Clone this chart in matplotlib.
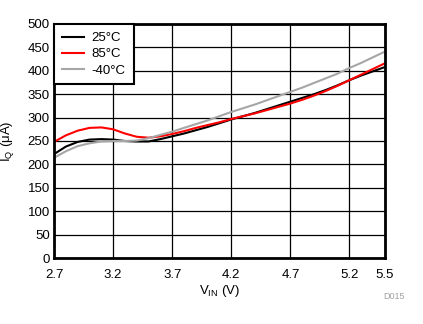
import numpy as np
import matplotlib.pyplot as plt

plt.rcParams['font.family'] = ['Liberation Sans', 'DejaVu Sans']
plt.rcParams['mathtext.fontset'] = 'custom'
plt.rcParams['mathtext.rm'] = 'Liberation Sans'

vin = [2.7, 2.8, 2.9, 3.0, 3.1, 3.2, 3.3, 3.4, 3.5, 3.6, 3.7, 3.8, 3.9, 4.0, 4.1,
       4.2, 4.3, 4.4, 4.5, 4.6, 4.7, 4.8, 4.9, 5.0, 5.1, 5.2, 5.3, 5.4, 5.5]

iq_25 = [222, 238, 248, 253, 254, 253, 250, 249, 249, 254, 260, 266, 273, 280, 288,
         296, 303, 310, 318, 326, 334, 342, 350, 359, 369, 380, 390, 399, 408]
iq_85 = [248, 262, 272, 278, 279, 275, 266, 259, 257, 260, 265, 271, 278, 284, 290,
         297, 303, 309, 316, 323, 330, 338, 347, 357, 368, 380, 392, 404, 416]
iq_m40 = [214, 228, 239, 245, 249, 250, 250, 251, 256, 263, 270, 278, 286, 294, 303,
          312, 320, 328, 337, 346, 355, 364, 374, 384, 394, 406, 417, 429, 441]

xticks = [2.7, 3.2, 3.7, 4.2, 4.7, 5.2, 5.5]
yticks = np.arange(0, 501, 50)

fig = plt.figure(figsize=(4.23, 3.24), dpi=100)
ax = fig.add_axes([0.1277, 0.2037, 0.910 - 0.1277, 0.926 - 0.2037])

ax.plot(vin, iq_25, color='black', lw=1.5, label='25°C')
ax.plot(vin, iq_85, color='#FF0000', lw=1.5, label='85°C')
ax.plot(vin, iq_m40, color='#A6A6A6', lw=1.5, label='-40°C')

ax.set_xlim(2.7, 5.5)
ax.set_ylim(0, 500)
ax.set_xticks(xticks)
ax.set_yticks(yticks)
ax.tick_params(length=0, labelsize=9.5)
ax.tick_params(axis='x', pad=8)
ax.tick_params(axis='y', pad=3)
ax.grid(True, color='black', lw=0.9)
for s in ax.spines.values():
    s.set_linewidth(2)

ax.set_xlabel(r'V$_{\mathregular{IN}}$ (V)', fontsize=9.5, labelpad=1)
ax.set_ylabel(r'I$_{\mathregular{Q}}$ ($\mathregular{\mu}$A)', fontsize=9.5, labelpad=8)

leg = ax.legend(loc='upper left', fontsize=9.5, fancybox=False, framealpha=1,
                borderaxespad=0, handlelength=1.7, labelspacing=0.3,
                handletextpad=0.55, borderpad=0.6)
leg.get_frame().set_edgecolor('black')
leg.get_frame().set_linewidth(1.5)

fig.text(0.958, 0.076, 'D015', fontsize=6.5, color='#A0A0A0', ha='right')

fig.savefig('out.png', dpi=100)
